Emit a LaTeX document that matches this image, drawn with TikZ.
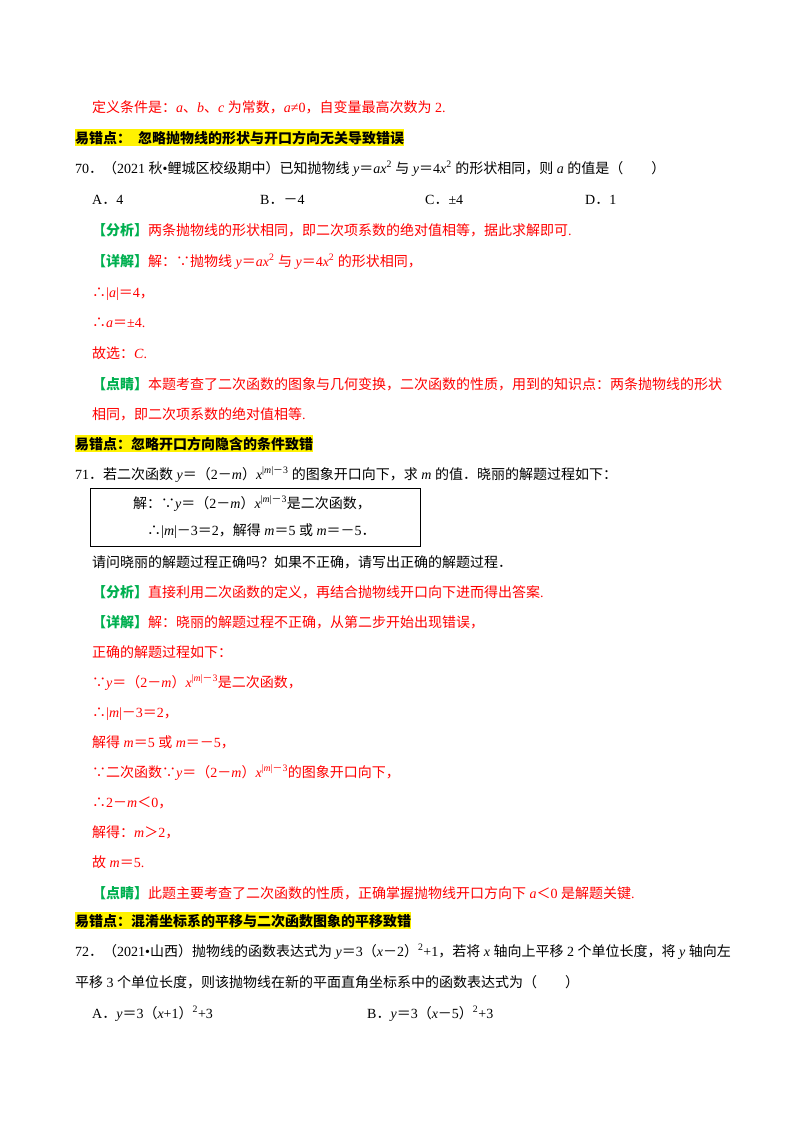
\documentclass[tikz,border=0pt]{standalone}
\usepackage{fontspec}
\setmainfont{Liberation Serif}
\newfontfamily\cjk{Noto Sans CJK SC}
\XeTeXinterchartokenstate=1
\newXeTeXintercharclass\CJKcls
\count255="3000
\loop \XeTeXcharclass\count255=\CJKcls \ifnum\count255<"9FFF \advance\count255 1 \repeat
\count255="FF00
\loop \XeTeXcharclass\count255=\CJKcls \ifnum\count255<"FFEF \advance\count255 1 \repeat
\XeTeXcharclass"2234=\CJKcls
\XeTeXcharclass"2235=\CJKcls
\XeTeXinterchartoks 0 \CJKcls = {\begingroup\cjk}
\XeTeXinterchartoks 4095 \CJKcls = {\begingroup\cjk}
\XeTeXinterchartoks \CJKcls 0 = {\endgroup}
\XeTeXinterchartoks \CJKcls 4095 = {\endgroup}
\definecolor{myred}{RGB}{255,0,0}
\definecolor{mygreen}{RGB}{0,176,80}
\newcommand{\G}[1]{\textcolor{mygreen}{\bfseries #1}}
\newcommand{\I}[1]{\textit{#1}}
\newcommand{\sq}{\textsuperscript{2}}
\newcommand{\ex}{\textsuperscript{|\I{m}|－3}}
\begin{document}
\begin{tikzpicture}[x=1pt,y=1pt,
  txt/.style={anchor=base west,inner sep=0pt,font=\fontsize{14}{16}\selectfont},
  rtxt/.style={txt,text=myred},
  hl/.style={txt,fill=yellow,inner ysep=2pt,font=\fontsize{14}{16}\selectfont\bfseries}]
\useasboundingbox (0,0) rectangle (800,-1132);
\node[rtxt] (t1) at (92,-112) {定义条件是：\I{a}、\I{b}、\I{c} 为常数，\I{a}≠0，自变量最高次数为 2.};
\node[hl] (h1) at (75,-143) {易错点：\ \ 忽略抛物线的形状与开口方向无关导致错误};
\node[txt] (q70) at (75,-173) {70．（2021 秋•鲤城区校级期中）已知抛物线 \I{y}＝\I{ax}\sq{} 与 \I{y}＝4\I{x}\sq{} 的形状相同，则 \I{a} 的值是（\qquad）};
\node[txt] (oa) at (92,-204) {A．4};
\node[txt] (ob) at (260,-204) {B．－4};
\node[txt] (oc) at (425,-204) {C．±4};
\node[txt] (od) at (585,-204) {D．1};
\node[rtxt] (a1) at (92,-235) {\G{【分析】}两条抛物线的形状相同，即二次项系数的绝对值相等，据此求解即可.};
\node[rtxt] (a2) at (92,-266) {\G{【详解】}解：∵抛物线 \I{y}＝\I{ax}\sq{} 与 \I{y}＝4\I{x}\sq{} 的形状相同，};
\node[rtxt] (a3) at (92,-297) {∴|\I{a}|＝4，};
\node[rtxt] (a4) at (92,-327) {∴\I{a}＝±4.};
\node[rtxt] (a5) at (92,-358) {故选：\I{C}.};
\node[rtxt] (a6) at (92,-389) {\G{【点睛】}本题考查了二次函数的图象与几何变换，二次函数的性质，用到的知识点：两条抛物线的形状};
\node[rtxt] (a7) at (92,-419) {相同，即二次项系数的绝对值相等.};
\node[hl] (h2) at (75,-449) {易错点：忽略开口方向隐含的条件致错};
\node[txt] (q71) at (75,-479) {71．若二次函数 \I{y}＝（2－\I{m}）\I{x}\ex{} 的图象开口向下，求 \I{m} 的值．晓丽的解题过程如下：};
\draw[line width=1pt] (90,-488) rectangle (420,-546);
\node[txt] (b1) at (133,-508) {解：∵\I{y}＝（2－\I{m}）\I{x}\ex{}是二次函数，};
\node[txt] (b2) at (147,-535) {∴|\I{m}|－3＝2，解得 \I{m}＝5 或 \I{m}＝－5．};
\node[txt] (q71b) at (92,-567) {请问晓丽的解题过程正确吗？如果不正确，请写出正确的解题过程．};
\node[rtxt] (c1) at (92,-597) {\G{【分析】}直接利用二次函数的定义，再结合抛物线开口向下进而得出答案.};
\node[rtxt] (c2) at (92,-627) {\G{【详解】}解：晓丽的解题过程不正确，从第二步开始出现错误，};
\node[rtxt] (c3) at (92,-657) {正确的解题过程如下：};
\node[rtxt] (c4) at (92,-687) {∵\I{y}＝（2－\I{m}）\I{x}\ex{}是二次函数，};
\node[rtxt] (c5) at (92,-717) {∴|\I{m}|－3＝2，};
\node[rtxt] (c6) at (92,-747) {解得 \I{m}＝5 或 \I{m}＝－5，};
\node[rtxt] (c7) at (92,-777) {∵二次函数∵\I{y}＝（2－\I{m}）\I{x}\ex{}的图象开口向下，};
\node[rtxt] (c8) at (92,-807) {∴2－\I{m}＜0，};
\node[rtxt] (c9) at (92,-837) {解得：\I{m}＞2，};
\node[rtxt] (c10) at (92,-867) {故 \I{m}＝5.};
\node[rtxt] (c11) at (92,-898) {\G{【点睛】}此题主要考查了二次函数的性质，正确掌握抛物线开口方向下 \I{a}＜0 是解题关键.};
\node[hl] (h3) at (75,-926) {易错点：混淆坐标系的平移与二次函数图象的平移致错};
\node[txt] (q72) at (75,-956) {72．（2021•山西）抛物线的函数表达式为 \I{y}＝3（\I{x}－2）\sq+1，若将 \I{x} 轴向上平移 2 个单位长度，将 \I{y} 轴向左};
\node[txt] (q72b) at (75,-987) {平移 3 个单位长度，则该抛物线在新的平面直角坐标系中的函数表达式为（\qquad）};
\node[txt] (pa) at (92,-1018) {A．\I{y}＝3（\I{x}+1）\sq+3};
\node[txt] (pb) at (367,-1018) {B．\I{y}＝3（\I{x}－5）\sq+3};
\end{tikzpicture}
\end{document}
